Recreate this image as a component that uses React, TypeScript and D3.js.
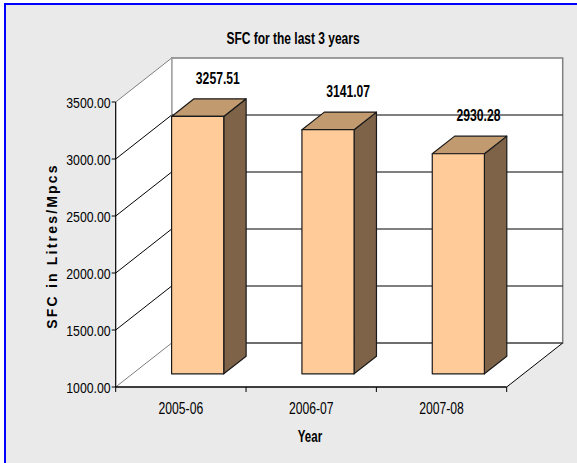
import React from "react";
import * as d3 from "d3";

const categories = ["2005-06", "2006-07", "2007-08"];
const values = [3257.51, 3141.07, 2930.28];
const valueLabels = ["3257.51", "3141.07", "2930.28"];
const yTicks = [1000, 1500, 2000, 2500, 3000, 3500];

const W = 577;
const H = 463;
const FONT = "'Liberation Sans', Arial, sans-serif";

// plot geometry (front plane + depth)
const X0 = 115.7;
const X1 = 506.7;
const YT = 102;
const YB = 387;
const DX = 56;
const DY = -44;
const F0 = 0.3; // bar front depth fraction
const F1 = 0.7; // bar back depth fraction

const P = (x: number, y: number, d: number) => [x + d * DX, y + d * DY];
const pts = (arr: number[][]) => arr.map((p) => p.join(",")).join(" ");

function SText(props: {
  x: number;
  y: number;
  sx?: number;
  size: number;
  bold?: boolean;
  anchor?: string;
  children: React.ReactNode;
}) {
  const { x, y, sx = 1, size, bold, anchor = "middle", children } = props;
  return (
    <text
      transform={`translate(${x},${y}) scale(${sx},1)`}
      textAnchor={anchor}
      fontFamily={FONT}
      fontSize={size}
      fontWeight={bold ? "bold" : "normal"}
      fill="#000"
    >
      {children}
    </text>
  );
}

export default function App() {
  const y = d3.scaleLinear().domain([1000, 3500]).range([YB, YT]);
  const x = d3
    .scaleBand<string>()
    .domain(categories)
    .range([X0, X1])
    .paddingInner(0.6)
    .paddingOuter(0.3);
  const step = x.step();
  const bw = x.bandwidth();

  const sideWall = [P(X0, YT, 0), P(X0, YT, 1), P(X0, YB, 1), P(X0, YB, 0)];
  const floor = [P(X0, YB, 0), P(X0, YB, 1), P(X1, YB, 1), P(X1, YB, 0)];
  const [bwx0, bwy0] = P(X0, YT, 1);
  const [bwx1, bwy1] = P(X1, YB, 1);

  return (
    <div style={{ position: "fixed", left: 0, top: 0 }}>
      <svg width={W} height={H} style={{ display: "block" }}>
        <rect x={0} y={0} width={W} height={H} fill="#fff" />
        <rect x={5} y={4} width={W + 20} height={H + 20} fill="#EAEAEA" stroke="#0000FF" strokeWidth={2} />

        {/* title */}
        <SText x={293} y={43.5} size={16} bold sx={0.75}>
          SFC for the last 3 years
        </SText>

        {/* walls */}
        <rect x={bwx0} y={bwy0} width={bwx1 - bwx0} height={bwy1 - bwy0} fill="#fff" stroke="#808080" strokeWidth={1.5} />
        <polygon points={pts(sideWall)} fill="#fff" />
        <polygon points={pts(floor)} fill="#fff" />

        {/* gridlines on back wall and side wall */}
        {yTicks.map((t) => {
          const [ax, ay] = P(X0, y(t), 0);
          const [bx, by] = P(X0, y(t), 1);
          const [cx, cy] = P(X1, y(t), 1);
          const edge = t === 1000 || t === 3500;
          return (
            <g key={t}>
              <line x1={ax} y1={ay} x2={bx} y2={by} stroke={edge ? "#808080" : "#000"} strokeWidth={1} />
              {!edge && <line x1={bx} y1={by} x2={cx} y2={cy} stroke="#000" strokeWidth={1} />}
            </g>
          );
        })}
        {/* back wall bottom edge */}
        <line x1={bwx0} y1={bwy1} x2={bwx1} y2={bwy1} stroke="#6e6e6e" strokeWidth={2} />
        {/* back wall left edge */}
        <line x1={bwx0} y1={bwy0} x2={bwx0} y2={bwy1} stroke="#9a9a9a" strokeWidth={1} />

        {/* bars */}
        {categories.map((c, i) => {
          const xl = x(c)!;
          const xr = xl + bw;
          const yt = y(values[i]);
          const yb = y(1000);
          const front = [P(xl, yt, F0), P(xr, yt, F0), P(xr, yb, F0), P(xl, yb, F0)];
          const top = [P(xl, yt, F0), P(xl, yt, F1), P(xr, yt, F1), P(xr, yt, F0)];
          const side = [P(xr, yt, F0), P(xr, yt, F1), P(xr, yb, F1), P(xr, yb, F0)];
          return (
            <g key={c} stroke="#1a1a1a" strokeWidth={1.2} strokeLinejoin="round">
              <polygon points={pts(side)} fill="#7F6349" />
              <polygon points={pts(top)} fill="#C29A6F" />
              <polygon points={pts(front)} fill="#FFCC99" />
            </g>
          );
        })}

        {/* data labels */}
        {categories.map((c, i) => {
          const cxp = x(c)! + bw / 2 + 0.66 * DX;
          const ty = y(values[i]) + F1 * DY - 15;
          return (
            <SText key={c} x={cxp} y={ty} size={16} bold sx={0.76}>
              {valueLabels[i]}
            </SText>
          );
        })}

        {/* front axes */}
        <line x1={X0} y1={YT} x2={X0} y2={YB} stroke="#000" strokeWidth={1.2} />
        <line x1={X0} y1={YB} x2={X1} y2={YB} stroke="#000" strokeWidth={1.5} />
        {(() => {
          const [fx, fy] = P(X1, YB, 1);
          return <line x1={X1} y1={YB} x2={fx} y2={fy} stroke="#000" strokeWidth={1} />;
        })()}
        {yTicks.map((t) => (
          <g key={t}>
            <line x1={X0 - 4} y1={y(t)} x2={X0} y2={y(t)} stroke="#000" strokeWidth={1} />
            <SText x={X0 - 5} y={y(t) + 6} size={15} sx={0.82} anchor="end">
              {t.toFixed(2)}
            </SText>
          </g>
        ))}
        {d3.range(categories.length + 1).map((k) => {
          const tx = X0 + k * step;
          return <line key={k} x1={tx} y1={YB} x2={tx} y2={YB + 5} stroke="#000" strokeWidth={1} />;
        })}
        {categories.map((c) => (
          <SText key={c} x={x(c)! + bw / 2} y={413.5} size={16} sx={0.76}>
            {c}
          </SText>
        ))}

        {/* axis titles */}
        <SText x={310} y={442} size={16} bold sx={0.72}>
          Year
        </SText>
        <text
          transform="translate(57,246) rotate(-90)"
          textAnchor="middle"
          fontFamily={FONT}
          fontSize={14}
          fontWeight="bold"
          letterSpacing={2.2}
          fill="#000"
        >
          SFC in Litres/Mpcs
        </text>
      </svg>
    </div>
  );
}
